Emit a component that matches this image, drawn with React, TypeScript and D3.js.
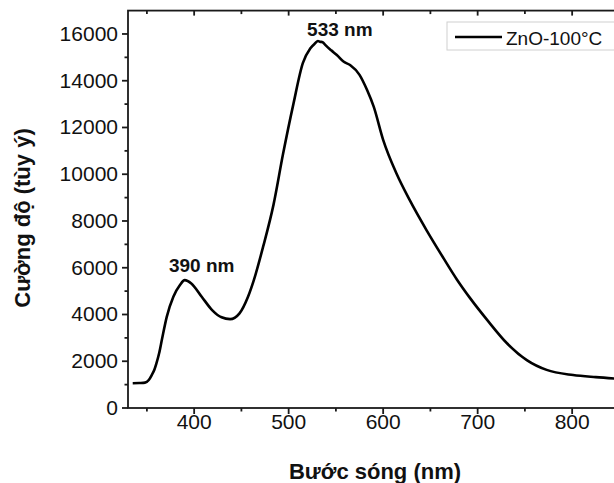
import React from 'react'
import * as d3 from 'd3'

// wavelength (nm) and PL intensity
const wavelength = [335, 342, 348, 352, 355, 358, 360, 363, 366, 371, 378, 385, 390, 397, 408, 419, 429, 438, 448, 457, 463, 473, 484, 494, 505, 515, 523, 528, 531, 533, 536, 539, 545, 551, 558, 565, 575, 583, 590, 600, 614, 628, 646, 664, 678, 692, 710, 731, 752, 773, 801, 825, 850]
const intensity = [1060, 1070, 1085, 1200, 1400, 1650, 1900, 2350, 2950, 3900, 4760, 5260, 5470, 5330, 4760, 4190, 3880, 3800, 4050, 4760, 5450, 6900, 8700, 10850, 13000, 14750, 15390, 15600, 15700, 15670, 15650, 15520, 15300, 15100, 14820, 14670, 14250, 13600, 12890, 11470, 10040, 8900, 7600, 6400, 5500, 4700, 3770, 2770, 2050, 1630, 1410, 1320, 1250]

const xTicks = [400, 500, 600, 700, 800]
const xMinor = [350, 450, 550, 650, 750, 850]
const yTicks = [0, 2000, 4000, 6000, 8000, 10000, 12000, 14000, 16000]
const yMinor = [1000, 3000, 5000, 7000, 9000, 11000, 13000, 15000]

const peakLabels = [
  { text: '390 nm', nm: 390, dx: 17, y: 272 },
  { text: '533 nm', nm: 533, dx: 20, y: 36 },
]
const seriesName = 'ZnO-100°C'

const W = 614
const H = 483
const FONT = '"Liberation Sans", Arial, sans-serif'

export default function App() {
  const x = d3.scaleLinear().domain([330, 850]).range([128, 619.4])
  const y = d3.scaleLinear().domain([0, 17000]).range([408, 10.6])

  const pts: [number, number][] = wavelength.map((w, i) => [w, intensity[i]])
  const line = d3
    .line<[number, number]>()
    .x(d => x(d[0]))
    .y(d => y(d[1]))
    .curve(d3.curveMonotoneX)

  const axisColor = '#1a1a1a'
  const x0 = x(330)
  const x1 = x(850)
  const y0 = y(0)
  const y1 = y(17000)

  return (
    <svg
      width={W}
      height={H}
      style={{ position: 'absolute', left: 0, top: 0, background: '#fff' }}
      fontFamily={FONT}
    >
      <rect x={0} y={0} width={W} height={H} fill="#fff" />

      {/* frame */}
      <rect x={x0} y={y1} width={x1 - x0} height={y0 - y1} fill="none" stroke={axisColor} strokeWidth={1.8} />

      {/* x ticks: bottom outward, top inward */}
      {xTicks.map(t => (
        <g key={'xt' + t}>
          <line x1={x(t)} x2={x(t)} y1={y0} y2={y0 + 6} stroke={axisColor} strokeWidth={1.8} />
          <line x1={x(t)} x2={x(t)} y1={y1} y2={y1 + 5} stroke={axisColor} strokeWidth={1.8} />
          <text x={x(t)} y={429} textAnchor="middle" fontSize={21} fill="#111">{t}</text>
        </g>
      ))}
      {xMinor.map(t => (
        <g key={'xm' + t}>
          <line x1={x(t)} x2={x(t)} y1={y0} y2={y0 + 3.5} stroke={axisColor} strokeWidth={1.8} />
          <line x1={x(t)} x2={x(t)} y1={y1} y2={y1 + 3.5} stroke={axisColor} strokeWidth={1.8} />
        </g>
      ))}

      {/* y ticks */}
      {yTicks.map(t => (
        <g key={'yt' + t}>
          <line x1={x0 - 6} x2={x0} y1={y(t)} y2={y(t)} stroke={axisColor} strokeWidth={1.8} />
          <text x={118} y={y(t) + 7} textAnchor="end" fontSize={21} fill="#111">{t}</text>
        </g>
      ))}
      {yMinor.map(t => (
        <line key={'ym' + t} x1={x0 - 3.5} x2={x0} y1={y(t)} y2={y(t)} stroke={axisColor} strokeWidth={1.8} />
      ))}

      {/* curve */}
      <path d={line(pts) || ''} fill="none" stroke="#000" strokeWidth={2.6} strokeLinejoin="round" />

      {/* peak labels */}
      {peakLabels.map(p => (
        <text key={p.text} x={x(p.nm) + p.dx} y={p.y} textAnchor="middle" fontSize={19} fontWeight="bold" fill="#111">{p.text}</text>
      ))}

      {/* legend */}
      <rect x={447} y={22} width={180} height={28} fill="#fff" stroke="#d0d0d0" strokeWidth={1} />
      <line x1={455} x2={502} y1={37} y2={37} stroke="#000" strokeWidth={2.6} />
      <text x={506} y={45} fontSize={19} fill="#111">{seriesName}</text>

      {/* axis titles */}
      <text x={375} y={479} textAnchor="middle" fontSize={22} fontWeight="bold" fill="#111">Bước sóng (nm)</text>
      <text
        transform="translate(30,218) rotate(-90)"
        textAnchor="middle"
        fontSize={22}
        fontWeight="bold"
        fill="#111"
      >
        Cường độ (tùy ý)
      </text>
    </svg>
  )
}
